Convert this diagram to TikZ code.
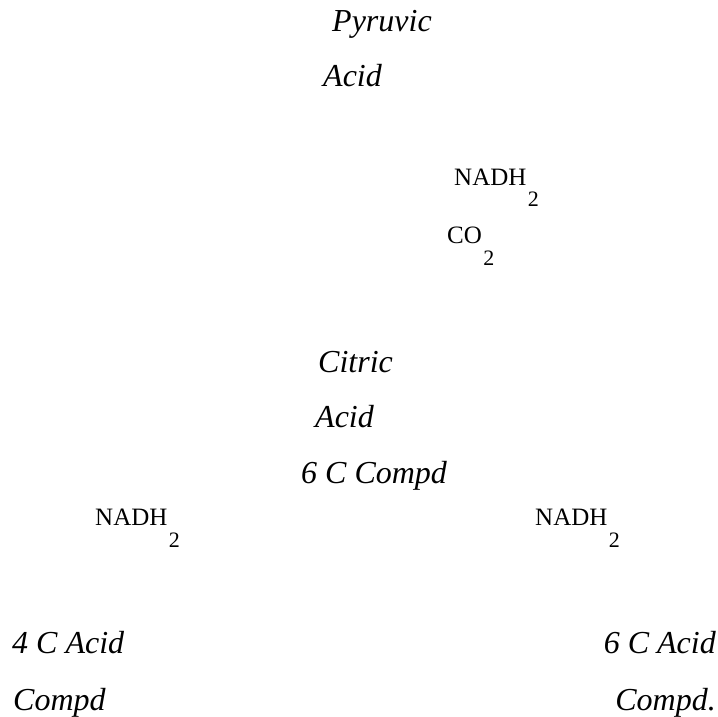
\documentclass[tikz,border=0pt]{standalone}
\usepackage{fontspec}
\setmainfont{Liberation Serif}
\usetikzlibrary{positioning,calc}
\tikzset{
  cmpd/.style={
    inner sep=0pt, font=\fontsize{32}{36}\selectfont\itshape
  },
  chem/.style={
    inner sep=0pt, font=\fontsize{25}{28}\selectfont
  },
  sub/.style={
    inner sep=0pt, anchor=base west, font=\fontsize{22}{26}\selectfont
  }
}

\begin{document}
\begin{tikzpicture}[x=1pt, y=-1pt]
        \useasboundingbox (0,0) rectangle (718,717);
        % compounds
        \node[cmpd, anchor=base west] (pyr) at (332,32) {Pyruvic};
        \node[cmpd, anchor=base west] (pyra) at (323,87) {Acid};
        \node[cmpd, anchor=base west] (cit) at (318,372) {Citric};
        \node[cmpd, anchor=base west] (cita) at (315,427) {Acid};
        \node[cmpd, anchor=base west] (six) at (301,483) {6 C Compd};
        \node[cmpd, anchor=base west] (four) at (12,653) {4 C Acid};
        \node[cmpd, anchor=base west] (fourc) at (13,710) {Compd};
        \node[cmpd, anchor=base east] (sixa) at (716,653) {6 C Acid};
        \node[cmpd, anchor=base east] (sixc) at (716,710) {Compd.};
        % by-products
        \node[chem, anchor=base west] (nadh) at (454,185) {NADH};
        \node[sub] (nadhs) at ($(nadh.base east)+(1,21)$) {2};
        \node[chem, anchor=base west] (co) at (447,243) {CO};
        \node[sub] (cos) at ($(co.base east)+(1,22)$) {2};
        \node[chem, anchor=base west] (nadhl) at (95,525) {NADH};
        \node[sub] (nadhls) at ($(nadhl.base east)+(1,22)$) {2};
        \node[chem, anchor=base west] (nadhr) at (535,525) {NADH};
        \node[sub] (nadhrs) at ($(nadhr.base east)+(1,22)$) {2};
      \end{tikzpicture}
\end{document}
